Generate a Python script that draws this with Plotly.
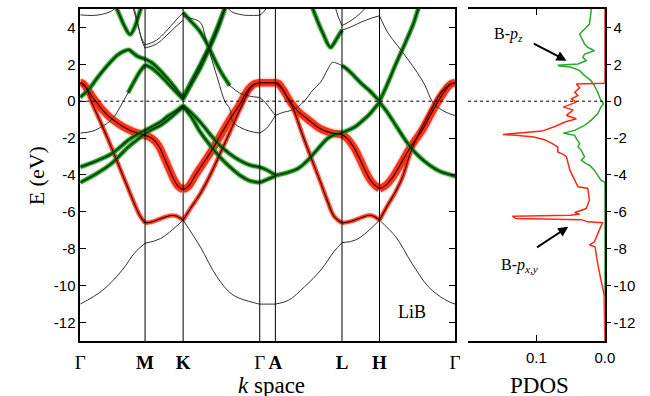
import plotly.graph_objects as go

# ---------------- axes: k-path and energy ----------------
K_TICKS = [0.0, 0.572, 0.908, 1.584, 1.722, 2.310, 2.641, 3.308]
K_LABELS = ["Γ", "<b>M</b>", "<b>K</b>", "Γ", "<b>A</b>", "<b>L</b>", "<b>H</b>", "Γ"]
E_TICKS = [-12, -10, -8, -6, -4, -2, 0, 2, 4]
E_LABELS = ["-12", "-10", "-8", "-6", "-4", "-2", "0", "2", "4"]
PDOS_TICKS = [0.1, 0.0]
PDOS_LABELS = ["0.1", "0.0"]

# ---------------- bands (k, E in eV) ----------------
# B p_xy bands (red fat bands)
R1_k = [0, 0.026, 0.069, 0.112, 0.155, 0.198, 0.267, 0.345, 0.414, 0.483, 0.572,
        0.629, 0.690, 0.733, 0.776, 0.819, 0.862, 0.908,
        0.957, 1.017, 1.060, 1.147, 1.233, 1.319, 1.405, 1.448, 1.491, 1.534, 1.584,
        1.722,
        1.750, 1.793, 1.836, 1.862, 1.922, 1.983, 2.052, 2.121, 2.207, 2.310,
        2.353, 2.414, 2.457, 2.500, 2.543, 2.586, 2.641,
        2.698, 2.759, 2.828, 2.897, 2.957, 3.017, 3.069, 3.129, 3.190, 3.241, 3.276, 3.308]
R1_E = [1.0, 0.95, 0.6, 0.2, -0.15, -0.48, -0.9, -1.25, -1.5, -1.68, -1.85,
        -2.0, -2.4, -2.95, -3.55, -4.15, -4.6, -4.8,
        -4.6, -4.0, -3.6, -2.8, -1.9, -1.0, -0.2, 0.3, 0.7, 0.93, 1.0,
        1.0,
        0.95, 0.6, 0.15, -0.1, -0.55, -0.86, -1.2, -1.5, -1.7, -1.8,
        -2.0, -2.5, -3.0, -3.57, -4.1, -4.47, -4.75,
        -4.55, -4.1, -3.4, -2.66, -2.1, -1.58, -1.0, -0.32, 0.3, 0.76, 0.95, 1.0]

R2_k = [0, 0.052, 0.103, 0.155, 0.241, 0.328, 0.414, 0.474, 0.526, 0.572,
        0.629, 0.716, 0.802, 0.845, 0.908,
        0.974, 1.060, 1.147, 1.233, 1.319, 1.405, 1.466, 1.517, 1.584,
        1.722,
        1.776, 1.836, 1.879, 1.966, 2.052, 2.121, 2.181, 2.241, 2.310,
        2.397, 2.483, 2.552, 2.595, 2.641,
        2.698, 2.784, 2.845, 2.914, 3.0, 3.086, 3.155, 3.216, 3.259, 3.308]
R2_E = [1.0, 0.7, -0.1, -0.8, -2.0, -3.3, -4.6, -5.5, -6.2, -6.6,
        -6.55, -6.35, -6.2, -6.22, -6.45,
        -5.8, -5.0, -4.0, -2.85, -1.7, -0.5, 0.3, 0.8, 1.0,
        1.0,
        0.7, 0.1, -0.4, -1.9, -3.3, -4.4, -5.4, -6.25, -6.6,
        -6.5, -6.3, -6.18, -6.25, -6.45,
        -5.8, -4.9, -4.1, -2.8, -1.6, -0.6, 0.2, 0.7, 0.9, 1.0]

# lowest valence band
B1_k = [0, 0.198, 0.371, 0.483, 0.572, 0.707, 0.908, 1.060, 1.204, 1.347, 1.548, 1.584,
        1.722, 1.836, 1.981, 2.124, 2.239, 2.310, 2.440, 2.641, 2.784, 2.928, 3.071, 3.216, 3.308]
B1_E = [-11.0, -10.25, -9.15, -8.2, -7.7, -7.45, -6.45, -7.9, -9.5, -10.5, -10.95, -11.0,
        -11.0, -10.8, -10.05, -9.15, -8.15, -7.67, -7.5, -6.45, -7.35, -8.8, -10.05, -10.75, -11.0]

# B p_z bands (green fat bands)
G1A_k = [0, 0.138, 0.276, 0.422, 0.5, 0.572, 0.629, 0.707, 0.776, 0.828, 0.908,
         0.974, 1.060, 1.147, 1.233, 1.319, 1.405, 1.491, 1.584, 1.638, 1.722]
G1A_E = [-3.57, -3.25, -2.85, -2.12, -1.8, -1.59, -1.4, -1.13, -0.8, -0.6, -0.23,
         -0.6, -1.14, -1.8, -2.4, -2.85, -3.2, -3.45, -3.57, -3.7, -4.0]
G1B_k = [0, 0.138, 0.276, 0.422, 0.5, 0.572, 0.629, 0.707, 0.776, 0.853, 0.908,
         0.974, 1.060, 1.147, 1.233, 1.319, 1.405, 1.491, 1.584, 1.647, 1.722]
G1B_E = [-4.41, -3.95, -3.38, -2.49, -2.1, -1.76, -1.55, -1.31, -1.0, -0.6, -0.3,
         -0.8, -1.68, -2.4, -3.03, -3.55, -4.0, -4.3, -4.41, -4.25, -4.05]
G1S_k = [1.722, 1.836, 1.922, 1.983, 2.034, 2.095, 2.181, 2.250, 2.310,
         2.422, 2.483, 2.543, 2.595, 2.641,
         2.698, 2.767, 2.836, 2.914, 3.0, 3.086, 3.172, 3.233, 3.308]
G1S_E = [-4.03, -3.85, -3.65, -3.35, -3.03, -2.6, -2.03, -1.8, -1.71,
         -1.4, -1.1, -0.77, -0.4, -0.05,
         -0.5, -1.14, -1.8, -2.49, -3.05, -3.48, -3.8, -3.93, -4.07]
G2A_k = [0, 0.069, 0.155, 0.241, 0.328, 0.388, 0.431, 0.466, 0.509, 0.572,
         0.629, 0.707, 0.767, 0.828, 0.871, 0.908,
         0.974, 1.060, 1.147, 1.216, 1.267, 1.302]
G2A_E = [0.22, 0.6, 1.3, 1.95, 2.5, 2.72, 2.78, 2.62, 2.42, 2.29,
         2.1, 1.66, 1.25, 0.8, 0.45, 0.22,
         1.0, 2.0, 3.1, 4.1, 4.9, 5.4]
GX_GRAY_k = [0, 0.112, 0.198, 0.259, 0.310, 0.362, 0.422]
GX_GRAY_E = [-1.73, -1.62, -1.35, -1.1, -0.75, -0.2, 0.45]
GX_k = [0.422, 0.483, 0.526, 0.572, 0.629, 0.707, 0.784, 0.853, 0.908,
        0.974, 1.060, 1.147, 1.216, 1.276, 1.310]
GX_E = [0.45, 1.15, 1.6, 1.97, 1.8, 1.39, 0.9, 0.45, 0.1,
        0.85, 1.8, 2.95, 3.95, 5.0, 5.5]

# band from K down through Gamma/A and up to L
C_k = [0.908, 0.974, 1.060, 1.112, 1.164, 1.216, 1.276, 1.319, 1.345, 1.405, 1.491, 1.584,
       1.647, 1.722, 1.793, 1.862, 1.922, 1.983, 2.052, 2.121, 2.181, 2.224, 2.267, 2.310]
C_E = [4.6, 4.5, 4.27, 3.3, 2.2, 1.15, 0.0, -0.4, -1.1, -1.4, -1.62, -1.73,
       -1.45, -0.77, -0.6, -0.5, -0.3, 0.04, 0.6, 1.03, 1.7, 2.1, 2.05, 1.93]
CG_k = [2.310, 2.353, 2.414, 2.483, 2.552, 2.595, 2.641, 2.698, 2.784, 2.871, 2.940, 2.983, 3.017]
CG_E = [1.93, 1.75, 1.39, 0.95, 0.58, 0.3, 0.0, 0.75, 2.0, 3.2, 4.2, 5.0, 5.5]
DG_k = [0.908, 0.974, 1.060, 1.129, 1.190, 1.250, 1.319]
DG_E = [4.8, 4.35, 3.75, 3.0, 2.2, 1.5, 0.85]
D_k = [1.319, 1.405, 1.491, 1.584, 1.638, 1.681, 1.722]
D_E = [0.85, 0.45, 0.28, 0.2, -0.1, -0.45, -0.77]

# conduction bands near the top of the window
T1_k = [0, 0.112, 0.198, 0.284, 0.345]
T1_E = [4.68, 4.65, 4.72, 4.92, 5.3]
V1_k = [0.302, 0.345, 0.388, 0.440, 0.483, 0.517, 0.552]
V1_E = [5.3, 4.7, 4.1, 3.62, 4.05, 4.7, 5.3]
MA_k = [0.457, 0.5, 0.543, 0.572, 0.672, 0.759, 0.845, 0.908]
MA_E = [5.3, 4.3, 3.4, 3.05, 3.3, 3.8, 4.4, 4.8]
MB_k = [0.466, 0.509, 0.543, 0.572, 0.672, 0.759, 0.845, 0.908]
MB_E = [5.3, 4.2, 3.3, 2.88, 3.1, 3.55, 4.05, 4.4]
T2_k = [1.284, 1.336, 1.431, 1.491, 1.584, 1.612, 1.638, 1.664]
T2_E = [5.2, 4.85, 4.68, 4.65, 4.66, 4.8, 5.0, 5.3]
V2_k = [2.034, 2.078, 2.138, 2.209, 2.250, 2.284, 2.310]
V2_E = [5.3, 4.6, 3.73, 2.92, 3.25, 3.6, 3.85]
T3_k = [2.310, 2.397, 2.483, 2.569, 2.641, 2.716, 2.802, 2.888, 2.974, 3.043, 3.101, 3.138,
        3.198, 3.259, 3.308]
T3_E = [3.85, 4.05, 4.3, 4.5, 4.63, 3.7, 3.0, 2.3, 1.55, 0.85, 0.04, -0.25, -0.5, -0.68, -0.77]
U_k = [2.241, 2.276, 2.310, 2.371, 2.440, 2.509, 2.543]
U_E = [5.3, 4.6, 4.1, 4.3, 4.6, 5.0, 5.3]

# ---------------- projected DOS ----------------
PZ_E = [5.0, 4.90, 4.18, 3.64, 3.46, 3.10, 2.92, 2.83, 2.74, 2.56, 2.38, 2.20, 2.02, 1.95,
        1.91, 1.85, 1.66, 1.39, 1.12, 0.85, 0.49, 0.04, -0.14, -0.32, -0.68, -1.04, -1.31,
        -1.58, -1.73, -1.76, -1.85, -2.03, -2.30, -2.48, -2.66, -2.84, -3.02, -3.20, -3.38,
        -3.47, -3.56, -3.74, -4.01, -4.28, -4.37, -4.5, -10.6]
PZ_DOS = [0.020, 0.020, 0.0225, 0.0368, 0.0344, 0.0296, 0.0249, 0.0201, 0.0153, 0.0296,
          0.032, 0.0273, 0.0392, 0.0689, 0.066, 0.050, 0.0368, 0.0296, 0.0201, 0.0153,
          0.0105, 0.0057, 0.0019, 0.0057, 0.0105, 0.0201, 0.0296, 0.044, 0.0608, 0.056,
          0.044, 0.0416, 0.0368, 0.0392, 0.0344, 0.032, 0.0296, 0.0344, 0.0273, 0.0225,
          0.0201, 0.0153, 0.0105, 0.0057, 0.001, 0.0, 0.0]
PXY_E = [5.0, 0.97, 0.93, 0.72, 0.49, 0.31, 0.13, -0.05, -0.32, -0.47, -0.77, -0.95, -1.13,
         -1.37, -1.62, -1.73, -1.80, -1.85, -1.94, -2.09, -2.27, -2.48, -2.75, -2.88, -3.02,
         -3.38, -3.74, -4.28, -4.64, -4.73, -5.37, -5.82, -6.03, -6.12, -6.18, -6.24, -6.36,
         -6.42, -6.54, -6.59, -6.99, -7.62, -7.80, -7.89, -8.79, -9.69, -10.5, -13.0]
PXY_DOS = [0.0, 0.0, 0.0416, 0.0368, 0.044, 0.0392, 0.0488, 0.0416, 0.0608, 0.0464, 0.056,
           0.0416, 0.0584, 0.073, 0.092, 0.125, 0.149, 0.130, 0.104, 0.088, 0.078, 0.0688,
           0.0688, 0.0608, 0.056, 0.0536, 0.0512, 0.044, 0.0392, 0.0249, 0.0225, 0.0273,
           0.044, 0.0368, 0.05, 0.135, 0.13, 0.034, 0.0249, 0.0033, 0.0081, 0.0153,
           0.0225, 0.0143, 0.0105, 0.0057, 0.001, 0.0]

BANDS = [
    (B1_k, B1_E, "plain"), (GX_GRAY_k, GX_GRAY_E, "plain"), (C_k, C_E, "plain"),
    (D_k, D_E, "plain"), (T1_k, T1_E, "plain"), (MA_k, MA_E, "plain"), (MB_k, MB_E, "plain"),
    (T2_k, T2_E, "plain"), (T3_k, T3_E, "plain"), (U_k, U_E, "plain"),
    (R2_k, R2_E, "redthin"), (R1_k, R1_E, "red"),
    (G1A_k, G1A_E, "green"), (G1B_k, G1B_E, "green"), (G1S_k, G1S_E, "green"),
    (G2A_k, G2A_E, "green"), (GX_k, GX_E, "green"), (CG_k, CG_E, "green"),
    (DG_k, DG_E, "green"), (V1_k, V1_E, "green"), (V2_k, V2_E, "green"),
]

# (soft glow, glow width, fat colour, fat width, line colour, line width)
STYLES = {
    "red": ("rgba(255,90,70,0.25)", 10, "rgba(255,40,10,0.95)", 7.5, "rgb(60,0,0)", 1.2),
    "redthin": ("rgba(255,90,70,0.22)", 6.0, "rgba(255,40,10,0.85)", 4.0, "rgb(60,0,0)", 1.1),
    "green": ("rgba(60,170,60,0.3)", 6.0, "rgba(20,140,20,0.95)", 4.0, "rgb(0,40,0)", 1.2),
    "plain": (None, 0, None, 0, "rgb(50,50,50)", 1.0),
}


def legs(k, e):
    """Split a band at the high-symmetry points so each leg is smoothed separately."""
    out, ck, ce = [], [k[0]], [e[0]]
    for i in range(1, len(k)):
        ck.append(k[i])
        ce.append(e[i])
        if i < len(k) - 1 and any(abs(k[i] - t) < 1e-6 for t in K_TICKS):
            out.append((ck, ce))
            ck, ce = [k[i]], [e[i]]
    if len(ck) > 1:
        out.append((ck, ce))
    return out


def band_line(k, e, color, width):
    return go.Scatter(x=k, y=e, mode="lines", xaxis="x", yaxis="y",
                      line=dict(color=color, width=width, shape="spline"),
                      hoverinfo="skip", showlegend=False)


fig = go.Figure()

# glow, then fat band, then the thin band lines on top
for slot in (0, 2):
    for layer in ("red", "redthin", "green"):
        for k, e, style in BANDS:
            if style != layer:
                continue
            st = STYLES[style]
            for lk, le in legs(k, e):
                fig.add_trace(band_line(lk, le, st[slot], st[slot + 1]))
for k, e, style in BANDS:
    st = STYLES[style]
    for lk, le in legs(k, e):
        fig.add_trace(band_line(lk, le, st[4], st[5]))

# PDOS curves (no simplification so the narrow spikes survive)
fig.add_trace(go.Scatter(x=PZ_DOS, y=PZ_E, mode="lines", xaxis="x2", yaxis="y2",
                         line=dict(color="rgb(40,170,40)", width=1.5, simplify=False),
                         hoverinfo="skip", showlegend=False))
fig.add_trace(go.Scatter(x=PXY_DOS, y=PXY_E, mode="lines", xaxis="x2", yaxis="y2",
                         line=dict(color="rgb(255,40,20)", width=1.5, simplify=False),
                         hoverinfo="skip", showlegend=False))

serif = "Liberation Serif"
sans = "Liberation Sans"
frame = dict(showline=True, linecolor="black", linewidth=1.5, showgrid=False, zeroline=False)

fig.update_layout(
    width=650, height=396,
    margin=dict(l=0, r=0, t=0, b=0),
    paper_bgcolor="white", plot_bgcolor="white",
    xaxis=dict(domain=[0.1185, 0.7088], range=[K_TICKS[0], K_TICKS[-1]],
               tickvals=K_TICKS, ticktext=K_LABELS, ticks="", mirror=True,
               tickfont=dict(family=serif, size=19, color="black"),
               ticklabelstandoff=3, **frame),
    yaxis=dict(domain=[0.1389, 0.9773], range=[-13, 5], tickvals=E_TICKS, ticktext=E_LABELS,
               ticks="inside", ticklen=6, tickwidth=1.2, tickcolor="black", mirror="ticks",
               tickfont=dict(family=sans, size=15, color="black"), **frame),
    xaxis2=dict(domain=[0.7292, 0.9446], range=[0.2, 0.0], anchor="y2",
                tickvals=PDOS_TICKS, ticktext=PDOS_LABELS, ticks="inside", ticklen=6,
                tickwidth=1.2, tickcolor="black", mirror="ticks",
                tickfont=dict(family=sans, size=15, color="black"),
                ticklabelstandoff=2, **frame),
    yaxis2=dict(domain=[0.1389, 0.9773], range=[-13, 5], anchor="x2", side="right",
                tickvals=E_TICKS, ticktext=E_LABELS, ticks="outside", ticklen=4,
                tickwidth=1.2, tickcolor="black", layer="below traces",
                tickfont=dict(family=sans, size=15, color="black"), **frame),
    yaxis3=dict(range=[-13, 5], anchor="x2", overlaying="y2", side="left",
                tickvals=E_TICKS, ticks="inside", ticklen=5, tickwidth=1.2, tickcolor="black",
                showticklabels=False, **frame),
)

# high-symmetry verticals and the Fermi level
for t in K_TICKS[1:-1]:
    fig.add_shape(type="line", xref="x", yref="y domain", x0=t, x1=t, y0=0, y1=1,
                  line=dict(color="black", width=1), layer="above")
for xr, yr in (("x domain", "y"), ("x2 domain", "y2")):
    fig.add_shape(type="line", xref=xr, yref=yr, x0=0, x1=1, y0=0, y1=0,
                  line=dict(color="black", width=1, dash="dot"), layer="above")

ann = [
    dict(text="LiB", x=2.93, y=-11.45, xref="x", yref="y", showarrow=False,
         font=dict(family=serif, size=18, color="black")),
    dict(text="E (eV)", x=0.049, y=0.555, xref="paper", yref="paper", showarrow=False,
         xanchor="center", yanchor="middle", textangle=-90,
         font=dict(family=serif, size=22, color="black")),
    dict(text="<i>k</i> space", x=0.42, y=0.062, xref="paper", yref="paper",
         xanchor="center", yanchor="top", showarrow=False,
         font=dict(family=serif, size=23, color="black")),
    dict(text="PDOS", x=0.842, y=0.062, xref="paper", yref="paper", xanchor="center",
         yanchor="top", showarrow=False, font=dict(family=serif, size=23, color="black")),
    dict(text="B-<i>p</i><sub><i>z</i></sub>", x=0.141, y=3.6, xref="x2", yref="y2",
         showarrow=False, font=dict(family=serif, size=16, color="black")),
    dict(text="", x=0.056, y=2.2, ax=0.106, ay=3.17, xref="x2", yref="y2",
         axref="x2", ayref="y2", showarrow=True, arrowhead=2, arrowsize=1,
         arrowwidth=2, arrowcolor="black"),
    dict(text="B-<i>p</i><sub><i>x,y</i></sub>", x=0.125, y=-8.9, xref="x2", yref="y2",
         showarrow=False, font=dict(family=serif, size=16, color="black")),
    dict(text="", x=0.0535, y=-6.81, ax=0.1014, ay=-7.98, xref="x2", yref="y2",
         axref="x2", ayref="y2", showarrow=True, arrowhead=2, arrowsize=1,
         arrowwidth=2, arrowcolor="black"),
]
fig.update_layout(annotations=ann)

fig.write_html("out.html")
